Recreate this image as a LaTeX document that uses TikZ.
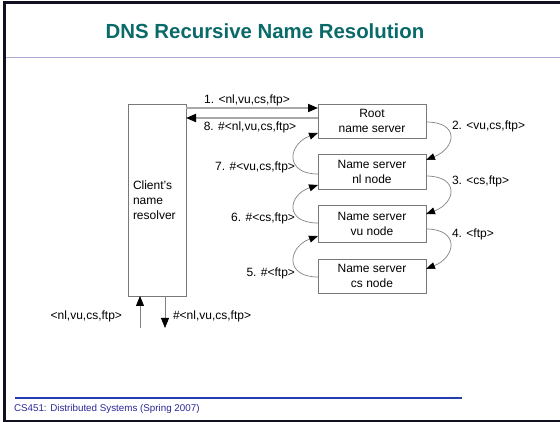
\documentclass[tikz,border=0pt]{standalone}
\usepackage{fontspec}
\setmainfont{Liberation Sans}
\usetikzlibrary{arrows.meta}
\definecolor{titleteal}{RGB}{10,105,105}
\definecolor{rulelav}{RGB}{170,170,212}
\definecolor{footblue}{RGB}{36,60,176}
\definecolor{foottext}{RGB}{40,40,150}
\definecolor{frameblk}{RGB}{16,16,32}
\definecolor{boxgray}{RGB}{120,120,120}
\definecolor{arrgray}{RGB}{130,130,130}
\definecolor{lightarr}{RGB}{168,168,168}
\begin{document}
\begin{tikzpicture}[x=1pt,y=-1pt,
  every node/.style={inner sep=0pt, outer sep=0pt},
  txt/.style={font=\fontsize{12}{15}\selectfont},
  srvbox/.style={txt, draw=boxgray, line width=0.8pt, align=center, minimum width=108pt},
  tip/.style={-{Triangle[length=10pt,width=8pt,color=black]}},
  curvearr/.style={draw=arrgray, line width=0.7pt, -{Triangle[length=9pt,width=7pt,color=black]}},
  straightarr/.style={draw=lightarr, line width=1.8pt, tip},
  thinarr/.style={draw=arrgray, line width=0.8pt, tip}]
\useasboundingbox (0,0) rectangle (560,422);
% frame
\draw[frameblk, line width=3pt] (560,2.5) -- (4.5,2.5) -- (4.5,422);
\draw[frameblk, line width=2pt] (4.5,421) -- (560,421);
\draw[rulelav, line width=1.6pt] (6,57.5) -- (560,57.5);
\node[font=\fontsize{20.4}{24}\selectfont\bfseries, text=titleteal] (title) at (265,31) {DNS Recursive Name Resolution};
% footer
\draw[footblue, line width=2pt] (15,397.5) -- (462,397.5);
\node[anchor=west, font=\fontsize{9.8}{11}\selectfont, text=foottext] (foot) at (14,409) {CS451: Distributed Systems (Spring 2007)};
% boxes
\node[draw=boxgray, line width=0.8pt, minimum width=58pt, minimum height=192pt] (client) at (157,200) {};
\node[txt, align=left, anchor=north west] (clienttxt) at (133,181) {Client\symbol{39}s\\name\\resolver};
\node[srvbox, minimum height=34pt] (root) at (372,121) {Root\\name server};
\node[srvbox, minimum height=35pt] (nl) at (372,171.5) {Name server\\nl node};
\node[srvbox, minimum height=37pt] (vu) at (372,223.5) {Name server\\vu node};
\node[srvbox, minimum height=34pt] (cs) at (372,276) {Name server\\cs node};
% request/response between client and root
\draw[straightarr] (client.east |- 0,108) -- (root.west |- 0,108);
\draw[straightarr] (root.west |- 0,118) -- (client.east |- 0,118);
\node[txt, anchor=center] (l1) at (247,100) {1. <nl,vu,cs,ftp>};
\node[txt, anchor=center] (l8) at (250,127) {8. \#<nl,vu,cs,ftp>};
% right side curved arrows
\draw[curvearr] (root.east |- 0,122) .. controls (460,122) and (456,148) .. (nl.east |- 0,160);
\draw[curvearr] (nl.east |- 0,176) .. controls (460,176) and (456,203) .. (vu.east |- 0,214);
\draw[curvearr] (vu.east |- 0,229) .. controls (460,229) and (456,257) .. (cs.east |- 0,269);
\node[txt, anchor=west] (l2) at (452,126.5) {2. <vu,cs,ftp>};
\node[txt, anchor=west] (l3) at (452,181) {3. <cs,ftp>};
\node[txt, anchor=west] (l4) at (452,234.5) {4. <ftp>};
% left side curved arrows
\draw[curvearr] (nl.west |- 0,174) .. controls (284,174) and (288,144) .. (root.west |- 0,133);
\draw[curvearr] (vu.west |- 0,223) .. controls (284,223) and (288,195) .. (nl.west |- 0,185);
\draw[curvearr] (cs.west |- 0,277) .. controls (284,277) and (288,247) .. (vu.west |- 0,236);
\node[txt, anchor=east] (l7) at (295,167.5) {7. \#<vu,cs,ftp>};
\node[txt, anchor=east] (l6) at (295,218) {6. \#<cs,ftp>};
\node[txt, anchor=east] (l5) at (295,273) {5. \#<ftp>};
% bottom in/out
\coordinate (inq) at (140,328);
\coordinate (outr) at (165,328);
\draw[thinarr] (inq) -- (inq |- client.south);
\draw[thinarr] (outr |- client.south) -- (outr);
\node[txt, anchor=east] (lin) at (122,316) {<nl,vu,cs,ftp>};
\node[txt, anchor=west] (lout) at (173,316) {\#<nl,vu,cs,ftp>};
\end{tikzpicture}
\end{document}
